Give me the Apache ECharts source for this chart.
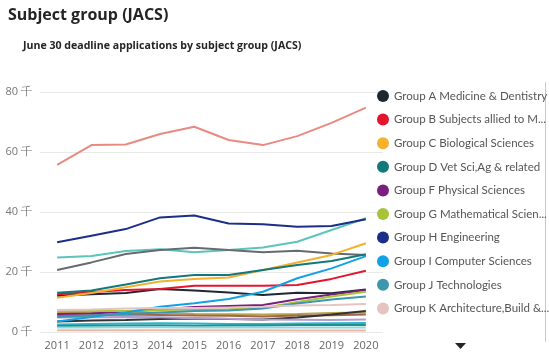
<!DOCTYPE html>
<html>
<head>
<meta charset="utf-8">
<script src="https://cdn.jsdelivr.net/npm/echarts@6/dist/echarts.min.js"></script>
<style>
html, body { margin: 0; padding: 0; background: #fff; }
#main { width: 549px; height: 353px; }
</style>
</head>
<body>
<div id="main"></div>
<script>
var years = ['2011', '2012', '2013', '2014', '2015', '2016', '2017', '2018', '2019', '2020'];

// applications, thousands
var groupNames = [
    'Group A Medicine & Dentistry',
    'Group B Subjects allied to Medicine',
    'Group C Biological Sciences',
    'Group D Vet Sci,Ag & related',
    'Group F Physical Sciences',
    'Group G Mathematical Sciences',
    'Group H Engineering',
    'Group I Computer Sciences',
    'Group J Technologies',
    'Group K Architecture,Build & Plan',
    'Group L Social studies',
    'Group M Law',
    'Group N Business & Admin studies',
    'Group P Mass Comms & Documentation',
    'Group Q Linguistics, Classics & related',
    'Group R European Langs, Lit & related',
    'Group T Non-European Langs, Lit & related',
    'Group V Hist & Philosophical studies',
    'Group W Creative Arts & Design',
    'Group X Education',
    'Combined'
];
var groupA = [12.1, 12.6, 13.0, 14.3, 13.8, 13.2, 12.3, 13.1, 12.9, 14.2];
var groupB = [12.6, 13.3, 14.0, 14.3, 15.4, 15.4, 15.4, 15.7, 17.7, 20.4];
var groupC = [11.4, 13.0, 14.9, 16.8, 17.7, 18.2, 20.7, 23.2, 25.7, 29.6];
var groupD = [13.1, 13.8, 15.8, 17.9, 19.0, 19.0, 20.7, 22.3, 23.7, 25.9];
var groupF = [6.0, 6.2, 6.8, 7.5, 8.3, 8.7, 9.0, 10.9, 12.5, 14.0];
var groupG = [7.0, 7.1, 7.0, 7.3, 7.5, 7.6, 8.0, 10.0, 11.8, 13.4];
var groupH = [29.9, 32.1, 34.3, 38.2, 38.8, 36.2, 35.9, 35.1, 35.3, 37.6];
var groupI = [3.5, 5.0, 6.5, 8.4, 9.6, 11.0, 13.4, 17.9, 21.2, 25.3];
var groupJ = [5.0, 5.5, 6.0, 6.5, 7.0, 7.2, 7.8, 9.5, 10.8, 11.8];
var groupK = [7.3, 7.5, 7.8, 8.0, 8.0, 8.2, 8.4, 8.8, 9.0, 9.3];
var groupL = [55.7, 62.3, 62.5, 66.0, 68.4, 64.0, 62.3, 65.3, 69.7, 74.8];
var groupM = [24.8, 25.3, 27.0, 27.6, 26.6, 27.3, 28.2, 30.1, 34.0, 37.9];
var groupN = [20.7, 23.2, 26.0, 27.3, 28.1, 27.3, 26.6, 27.1, 26.2, 25.7];
var groupP = [6.5, 6.6, 6.5, 6.4, 6.0, 5.9, 5.8, 6.0, 6.3, 6.5];
var groupQ = [5.5, 5.6, 5.8, 5.7, 5.5, 5.4, 5.2, 5.5, 5.6, 5.8];
var groupR = [3.5, 3.8, 4.0, 4.3, 4.5, 4.3, 4.2, 4.8, 5.8, 7.0];
var groupT = [4.8, 4.9, 5.0, 4.9, 4.6, 4.4, 4.2, 4.1, 4.0, 4.2];
var groupV = [2.5, 2.7, 2.8, 2.9, 2.8, 2.7, 2.7, 2.8, 2.9, 3.0];
var groupW = [2.0, 2.1, 2.2, 2.2, 2.1, 2.2, 2.2, 2.3, 2.3, 2.3];
var groupX = [1.5, 1.5, 1.6, 1.6, 1.5, 1.5, 1.5, 1.5, 1.5, 1.5];
var combined = [0.6, 0.6, 0.6, 0.6, 0.6, 0.6, 0.6, 0.5, 0.5, 0.5];

var groupValues = [groupA, groupB, groupC, groupD, groupF, groupG, groupH, groupI, groupJ, groupK,
    groupL, groupM, groupN, groupP, groupQ, groupR, groupT, groupV, groupW, groupX, combined];

var colors = ['#1f2732', '#e5142f', '#f5b02e', '#13787a', '#7a1f7e', '#a8c23a', '#1c2e88', '#12a1e4',
    '#3b97ae', '#e6c3c3', '#e88a80', '#5cc5bb', '#666b6e', '#b7a34a', '#a0664a', '#333333',
    '#b19cd0', '#2bb6c9', '#1f8f8f', '#8fd8e0', '#f0b8a0'];

var series = groupNames.map(function (name, i) {
    return {
        name: name,
        type: 'line',
        data: groupValues[i],
        showSymbol: false,
        lineStyle: { width: 2 },
        z: i < 10 ? 3 : 2
    };
});

var myChart = echarts.init(document.getElementById('main'));
var option = {
    color: colors,
    animation: false,
    title: [
        {
            text: 'Subject group (JACS)',
            left: 3,
            top: 2,
            textStyle: { fontFamily: 'Open Sans', fontSize: 16, fontWeight: 'bold', color: '#252423' }
        },
        {
            text: 'June 30 deadline applications by subject group (JACS)',
            left: 18,
            top: 35,
            textStyle: { fontFamily: 'Open Sans', fontSize: 10.6, fontWeight: 'bold', color: '#252423' }
        }
    ],
    legend: {
        orient: 'vertical',
        left: 372,
        top: 85,
        data: groupNames.slice(0, 10),
        icon: 'circle',
        itemWidth: 12,
        itemHeight: 12,
        itemGap: 11.6,
        textStyle: {
            fontFamily: 'Lato',
            fontSize: 11.5,
            color: '#555',
            width: 157,
            overflow: 'truncate',
            ellipsis: '...'
        }
    },
    grid: {
        left: 40,
        right: 166,
        top: 92,
        bottom: 21
    },
    xAxis: {
        type: 'category',
        data: years,
        boundaryGap: true,
        axisLine: { show: false },
        axisTick: { show: false },
        axisLabel: { color: '#666', fontFamily: 'Open Sans', fontSize: 11, margin: 8 }
    },
    yAxis: {
        type: 'value',
        min: 0,
        max: 80,
        interval: 20,
        axisLabel: { formatter: '{value} 千', color: '#777', fontFamily: 'Open Sans', fontSize: 11, margin: 8 },
        splitLine: { lineStyle: { color: '#e8e8e8' } }
    },
    graphic: [
        {
            type: 'line',
            shape: { x1: 545.5, y1: 82, x2: 545.5, y2: 342 },
            style: { stroke: '#c8c8c8', lineWidth: 1 }
        },
        {
            type: 'polygon',
            shape: { points: [[455, 343], [466, 343], [460.5, 349]] },
            style: { fill: '#252423' }
        }
    ],
    series: series
};
myChart.setOption(option);
</script>
</body>
</html>
